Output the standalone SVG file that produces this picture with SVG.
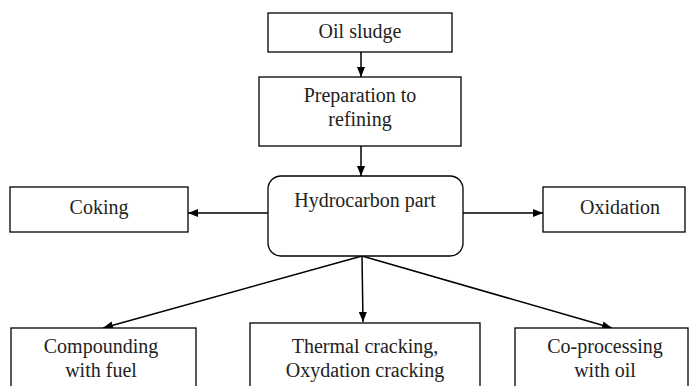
<svg xmlns="http://www.w3.org/2000/svg" width="693" height="386" viewBox="0 0 693 386" font-family="Liberation Serif, Times New Roman, serif">
<style>
.b{fill:#fff;stroke:#000;stroke-width:1.3}
text{font-family:"Liberation Serif","Times New Roman",serif;font-size:20px;fill:#222;text-anchor:middle}
.c{stroke:#000;stroke-width:1.5;fill:none;marker-end:url(#ah)}
</style>
<defs>
<marker id="ah" viewBox="0 0 10 8" refX="10" refY="4" markerWidth="10" markerHeight="8" markerUnits="userSpaceOnUse" orient="auto">
<path d="M0,0 L10,4 L0,8 Z" fill="#000"/>
</marker>
</defs>
<rect width="693" height="386" fill="#fff"/>
<g id="connectors">
<line class="c" x1="361" y1="52" x2="361" y2="77"/>
<line class="c" x1="361" y1="146" x2="361" y2="176"/>
<line class="c" x1="268" y1="213" x2="188" y2="213"/>
<line class="c" x1="463" y1="213" x2="543" y2="213"/>
<line class="c" x1="362" y1="256" x2="363" y2="322"/>
<line class="c" x1="362" y1="256" x2="103" y2="328"/>
<line class="c" x1="362" y1="256" x2="612" y2="328"/>
</g>
<g id="oil-sludge">
<rect class="b" x="268" y="13" width="184" height="39"/>
<text x="360" y="38">Oil sludge</text>
</g>
<g id="preparation">
<rect class="b" x="259" y="77" width="202" height="69"/>
<text x="360" y="102">Preparation to</text>
<text x="360" y="126">refining</text>
</g>
<g id="hydrocarbon">
<rect class="b" x="268" y="176" width="195" height="80" rx="13"/>
<text x="365" y="207">Hydrocarbon part</text>
</g>
<g id="coking">
<rect class="b" x="10" y="187" width="178" height="45"/>
<text x="99" y="214">Coking</text>
</g>
<g id="oxidation">
<rect class="b" x="543" y="187" width="142" height="45"/>
<text x="620" y="214">Oxidation</text>
</g>
<g id="compounding">
<rect class="b" x="11" y="328" width="185" height="70"/>
<text x="101" y="353">Compounding</text>
<text x="101" y="377">with fuel</text>
</g>
<g id="thermal">
<rect class="b" x="250" y="323" width="230" height="75"/>
<text x="365" y="353">Thermal cracking,</text>
<text x="365" y="377">Oxydation cracking</text>
</g>
<g id="co-processing">
<rect class="b" x="515" y="328" width="173" height="70"/>
<text x="605" y="353">Co-processing</text>
<text x="605" y="377">with oil</text>
</g>
</svg>
